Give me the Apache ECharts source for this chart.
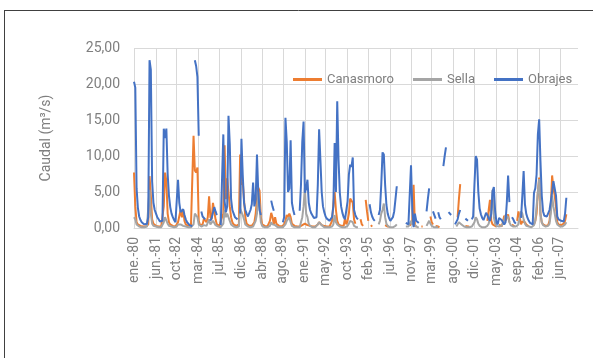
<!DOCTYPE html>
<html>
<head>
<meta charset="utf-8">
<script src="https://cdn.jsdelivr.net/npm/echarts@6/dist/echarts.min.js"></script>
<style>
  html, body { margin: 0; padding: 0; background: #ffffff; }
  #chart { width: 593px; height: 358px; }
</style>
</head>
<body>
<div id="chart"></div>
<script>
// Monthly axis: ene.-80 onward, 344 months
const monthNames = ['ene.', 'feb.', 'mar.', 'abr.', 'may.', 'jun.', 'jul.', 'ago.', 'sep.', 'oct.', 'nov.', 'dic.'];
const firstYear = 1980;
const monthCount = 344;

// Labelled months on the horizontal axis
const tickLabels = ['ene.-80', 'jun.-81', 'oct.-82', 'mar.-84', 'jul.-85', 'dic.-86', 'abr.-88', 'ago.-89',
  'ene.-91', 'may.-92', 'oct.-93', 'feb.-95', 'jul.-96', 'nov.-97', 'mar.-99', 'ago.-00', 'dic.-01',
  'may.-03', 'sep.-04', 'feb.-06', 'jun.-07'];

// Monthly discharge (m3/s), one row per year, null = no record
const canasmoro = [
  7.7, 3.0, 0.8, 0.5, 0.3, 0.3, 0.2, 0.2, 0.2, 0.2, 0.3, 0.5,
  7.2, 4.5, 1.2, 0.6, 0.4, 0.3, 0.3, 0.2, 0.2, 0.2, 0.3, 3.0,
  7.7, 6.5, 2.0, 0.8, 0.5, 0.4, 0.3, 0.3, 0.2, 0.3, 0.8, 1.0,
  2.5, 1.5, 2.5, 1.0, 0.5, 0.4, 0.3, 0.3, 0.3, 0.5, 12.8, 8.0,
  7.7, 8.4, 1.0, 0.4, 0.3, 0.5, 1.3, 1.5, 0.8, 1.5, 4.4, 1.5,
  1.2, 3.5, 3.3, 1.2, 0.5, 0.4, 0.3, 0.3, 1.5, 2.0, 11.5, 4.0,
  6.9, 5.0, 3.0, 1.5, 0.8, 0.5, 0.4, 0.3, 0.3, 0.5, 10.2, 6.0,
  6.4, 6.3, 1.5, 0.6, 0.4, 0.3, 0.3, 0.3, 0.4, 0.8, 2.0, 4.0,
  5.6, 5.2, 1.5, 0.5, 0.3, 0.3, 0.2, 0.2, 0.3, 1.0, 2.1, 1.5,
  0.5, 1.5, 0.6, 0.4, 0.3, 0.3, 0.2, 0.3, 0.5, 1.0, 1.8, 1.5,
  2.0, 1.5, 0.6, 0.4, 0.3, 0.3, 0.2, 0.2, 0.2, 0.3, 0.4, 0.5,
  0.6, 0.5, 0.4, 0.3, 0.3, 0.2, 0.2, 0.2, 0.2, 0.3, 0.5, 0.8,
  0.6, 0.4, 0.3, 0.3, 0.2, 0.2, 0.2, 0.2, 0.3, 1.0, 3.3, 5.0,
  2.5, 1.0, 0.5, 0.4, 0.3, 0.3, 0.3, 1.4, 0.5, 1.0, 2.0, 4.1,
  4.0, 3.5, 1.2, 0.6, null, null, null, 1.2, 0.5, 0.3, null, 3.9,
  2.3, 1.0, null, 0.4, 0.2, null, null, null, null, null, null, null,
  null, null, 0.4, 0.3, 0.2, 0.2, null, null, null, null, null, null,
  null, null, null, null, null, null, null, null, null, 0.3, 0.3, 1.0,
  6.0, 0.3, 0.2, null, null, null, 0.2, 0.2, null, null, null, null,
  null, 1.6, 0.8, 0.5, null, 0.3, 0.2, 0.2, 0.1, null, null, null,
  null, null, null, null, null, null, null, null, null, null, 1.5, 4.0,
  6.1, null, null, null, 0.3, 0.2, 0.2, 0.2, null, null, null, null,
  null, null, null, null, null, null, null, null, null, 1.0, 2.5, 3.9,
  1.0, 0.5, 0.3, 0.3, 0.2, null, 0.5, 0.3, 0.2, 0.8, 1.7, 1.0,
  1.5, 1.9, 0.8, null, 0.5, 0.3, 0.2, null, 1.0, 2.3, 1.5, 0.5,
  0.9, 1.0, 0.8, 0.5, 0.3, 0.2, null, null, null, 0.5, 1.0, 2.0,
  5.0, 7.0, 2.0, 0.8, 0.5, 0.3, 0.3, 0.3, 0.4, 1.0, 3.0, 7.3,
  5.5, 4.5, 3.0, 0.8, 0.5, 0.4, 0.4, 0.5, 0.6, 1.0, 1.9, null
];

const sella = [
  1.5, 1.2, 0.5, 0.3, 0.2, 0.2, 0.1, 0.1, 0.1, 0.1, 0.2, 0.4,
  5.3, 2.0, 0.6, 0.3, 0.2, 0.2, 0.1, 0.1, 0.1, 0.1, 0.2, 0.8,
  1.5, 1.3, 0.6, 0.3, 0.2, 0.2, 0.1, 0.1, 0.1, 0.2, 0.5, 0.4,
  0.5, 0.4, 0.3, 0.2, 0.2, 0.1, 0.1, 0.1, 0.1, 0.2, 0.5, 2.0,
  2.2, 1.5, 0.5, 0.3, 0.2, 0.3, 0.4, 0.5, 0.3, 0.5, 1.2, 0.5,
  0.6, 1.0, 0.8, 0.4, 0.2, 0.2, 0.1, 0.1, 0.3, 0.6, 2.5, 1.5,
  2.0, 1.8, 1.0, 0.5, 0.3, 0.2, 0.1, 0.1, 0.1, 0.2, 2.7, 2.5,
  1.8, 1.2, 0.5, 0.3, 0.2, 0.1, 0.1, 0.1, 0.2, 0.4, 1.0, 2.0,
  5.1, 3.0, 0.8, 0.3, 0.2, 0.1, 0.1, 0.1, 0.1, 0.3, 0.8, 0.5,
  0.3, 0.4, 0.2, 0.1, 0.1, 0.1, 0.1, 0.1, 0.2, 0.5, 1.0, 0.8,
  1.5, 0.8, 0.3, 0.2, 0.1, 0.1, 0.1, 0.1, 0.1, 0.3, 1.5, 3.0,
  5.6, 2.0, 1.5, 0.6, 0.3, 0.2, 0.1, 0.1, 0.1, 0.2, 0.5, 0.8,
  0.6, 0.4, 0.2, 0.1, 0.1, 0.1, 0.1, 0.1, 0.1, 0.2, 0.5, 1.8,
  0.8, 0.5, 0.3, 0.2, 0.1, 0.1, 0.1, 0.1, 0.2, 0.3, 0.6, 1.0,
  1.0, 0.8, 0.3, 0.2, 0.1, 0.1, null, null, null, null, null, null,
  null, null, null, null, null, null, null, null, null, 0.5, 1.0, 2.0,
  2.5, 3.4, 1.5, 0.6, 0.3, 0.2, 0.1, 0.1, 0.1, 0.2, 0.3, 0.5,
  null, null, null, null, null, null, 0.2, 0.2, 0.2, 0.3, 1.0, 0.5,
  0.5, 0.4, 0.2, 0.1, 0.1, null, null, null, null, null, 0.3, 0.5,
  1.0, 0.6, 0.3, 0.2, 0.1, 0.1, 0.1, 0.1, null, null, null, null,
  null, null, null, null, null, null, null, null, null, 0.2, 0.4, 0.8,
  1.0, 0.5, 0.3, 0.2, 0.1, 0.1, 0.1, 0.1, 0.1, 0.2, 0.4, 0.8,
  1.5, 1.2, 0.6, 0.3, 0.2, 0.1, 0.1, 0.1, 0.2, 0.3, 0.6, 1.5,
  2.5, 5.3, 1.5, 0.6, 0.3, 0.2, 0.2, 0.2, 0.3, 0.5, 1.0, 1.8,
  2.0, 1.5, 0.8, 0.4, 0.2, 0.2, 0.2, 0.2, 0.3, 0.5, 1.5, 2.3,
  2.0, 1.2, 0.6, 0.3, 0.2, 0.2, 0.1, 0.1, 0.2, 0.4, 1.0, 3.0,
  5.0, 6.8, 2.0, 0.8, 0.4, 0.3, 0.2, 0.2, 0.3, 0.6, 2.0, 4.5,
  3.0, 2.0, 1.0, 0.5, 0.3, 0.2, 0.2, 0.2, 0.3, 0.5, 0.8, null
];

const obrajes = [
  20.3, 19.5, 5.5, 2.8, 1.6, 1.1, 0.8, 0.6, 0.5, 0.4, 0.6, 1.5,
  23.3, 22.0, 6.5, 3.5, 2.5, 2.0, 1.5, 1.2, 0.9, 0.7, 1.0, 13.8,
  12.5, 13.8, 7.5, 4.5, 2.9, 2.0, 1.5, 1.1, 0.8, 0.6, 6.7, 3.5,
  2.2, 2.0, 2.6, 1.8, 1.2, 0.8, 0.6, 0.4, 0.3, 0.25, null, 23.3,
  22.5, 21.0, 12.8, null, 2.3, 1.6, 1.4, 1.2, null, null, null, 1.0,
  1.4, 1.6, 2.9, 2.3, 1.8, null, null, 0.4, 0.5, 13.0, 3.7, 2.2,
  3.0, 15.6, 11.6, 4.0, 2.5, 2.0, 1.5, 1.3, 1.2, null, 2.0, 12.4,
  7.4, 3.5, 2.5, 2.0, 1.6, 1.5, 2.5, 3.3, 6.3, 3.0, 4.0, 10.2,
  5.0, 2.5, 1.8, null, null, null, null, null, null, null, 3.8, 3.0,
  2.4, null, null, null, null, null, null, 0.8, 1.5, 15.3, 12.0, 5.0,
  5.5, 12.2, 3.5, 2.5, 1.8, null, null, null, 2.4, 6.0, 12.0, 14.8,
  4.9, 5.5, 6.7, 3.5, 2.5, 2.0, 1.7, 1.4, 1.2, 1.5, 6.0, 13.7,
  9.5, 5.0, 3.0, 2.2, 1.6, 1.3, 1.1, 1.0, 1.1, 1.5, 3.0, 11.8,
  5.0, 17.6, 9.5, 4.9, 3.0, 2.1, 1.5, 1.2, 1.2, 3.7, 7.4, 8.8,
  8.5, 9.8, 2.5, 1.8, 1.4, 1.2, null, null, null, null, null, null,
  null, null, 3.3, 2.2, 1.6, 1.2, 1.0, null, null, 1.8, 2.5, 6.0,
  10.5, 10.2, 6.0, 3.2, 2.0, 1.4, 1.0, 0.8, 1.5, 2.3, 4.0, 5.8,
  null, null, null, null, null, null, 0.7, 0.6, 0.5, 0.6, 8.7, 2.5,
  0.1, 2.0, 1.0, 0.8, 0.7, null, null, null, null, null, 2.3, 4.0,
  5.5, null, null, 2.3, 1.8, 1.3, null, 2.2, 1.5, 1.2, null, 8.6,
  10.0, 11.2, null, 2.2, 2.0, 1.8, null, null, 0.5, 0.6, 1.2, 2.0,
  2.5, null, null, null, 1.3, 1.1, 1.0, null, null, 1.2, 1.6, 6.0,
  10.0, 9.5, 5.0, 2.7, 1.9, 1.4, 1.1, 1.6, 2.1, 1.8, 1.3, 1.0,
  2.0, 5.1, 5.7, 2.3, 0.8, 0.5, 1.4, 1.2, 1.1, 1.0, 0.5, 0.8,
  3.5, 7.3, 3.6, null, 1.5, 1.2, 0.8, 0.6, null, null, null, 1.4,
  4.5, 7.9, 3.3, 2.0, 1.4, 1.0, 0.7, 0.5, 0.5, 4.9, 5.5, 7.4,
  13.0, 15.1, 9.3, 4.5, 2.3, 1.7, 1.6, 1.6, 1.8, 2.5, 3.7, 5.0,
  6.5, 6.7, 4.5, 1.6, 1.2, 1.1, 1.0, 0.8, 0.9, 2.0, 4.2, null
];

// Category labels such as "ene.-80"
const months = [];
for (let i = 0; i < monthCount; i++) {
  const yy = String((firstYear + Math.floor(i / 12)) % 100).padStart(2, '0');
  months.push(monthNames[i % 12] + '-' + yy);
}
const showTick = (idx, value) => tickLabels.indexOf(value) !== -1;

const textColor = '#7f7f7f';
const gridColor = '#d9d9d9';
const fontFamily = 'Roboto, "Noto Sans", sans-serif';

const chart = echarts.init(document.getElementById('chart'), null, { renderer: 'canvas' });
chart.setOption({
  animation: false,
  backgroundColor: '#ffffff',
  textStyle: { fontFamily: fontFamily },
  graphic: [
    { type: 'line', shape: { x1: 4, y1: 10.5, x2: 593, y2: 10.5 }, style: { stroke: '#404040', lineWidth: 1 }, silent: true },
    { type: 'line', shape: { x1: 4.5, y1: 10, x2: 4.5, y2: 358 }, style: { stroke: '#404040', lineWidth: 1 }, silent: true }
  ],
  legend: {
    left: 288,
    top: 68,
    icon: 'rect',
    itemWidth: 29,
    itemHeight: 3,
    itemGap: 19,
    textStyle: { color: textColor, fontSize: 13, fontFamily: fontFamily },
    data: ['Canasmoro', 'Sella', 'Obrajes']
  },
  grid: { left: 134, right: 15, top: 48, bottom: 130, containLabel: false },
  xAxis: {
    type: 'category',
    data: months,
    boundaryGap: false,
    axisLine: { show: true, lineStyle: { color: gridColor, width: 1 } },
    axisTick: { show: false },
    axisLabel: {
      interval: showTick,
      rotate: 90,
      margin: 9,
      color: textColor,
      fontSize: 14,
      fontFamily: fontFamily
    },
    splitLine: { show: true, interval: showTick, lineStyle: { color: gridColor, width: 1 } }
  },
  yAxis: {
    type: 'value',
    min: 0,
    max: 25,
    interval: 5,
    name: 'Caudal (m³/s)',
    nameLocation: 'middle',
    nameRotate: 90,
    nameGap: 81,
    nameTextStyle: { color: textColor, fontSize: 14, fontFamily: fontFamily },
    axisLine: { show: false },
    axisTick: { show: false },
    axisLabel: {
      margin: 14,
      color: textColor,
      fontSize: 14,
      fontFamily: fontFamily,
      formatter: v => v.toFixed(2).replace('.', ',')
    },
    splitLine: { lineStyle: { color: gridColor, width: 1 } }
  },
  series: [
    { name: 'Canasmoro', type: 'line', data: canasmoro, showSymbol: false, symbol: 'none',
      color: '#ed7d31', lineStyle: { width: 2, color: '#ed7d31' }, connectNulls: false },
    { name: 'Sella', type: 'line', data: sella, showSymbol: false, symbol: 'none',
      color: '#a5a5a5', lineStyle: { width: 2, color: '#a5a5a5' }, connectNulls: false },
    { name: 'Obrajes', type: 'line', data: obrajes, showSymbol: false, symbol: 'none',
      color: '#4472c4', lineStyle: { width: 2, color: '#4472c4' }, connectNulls: false }
  ]
});
</script>
</body>
</html>
